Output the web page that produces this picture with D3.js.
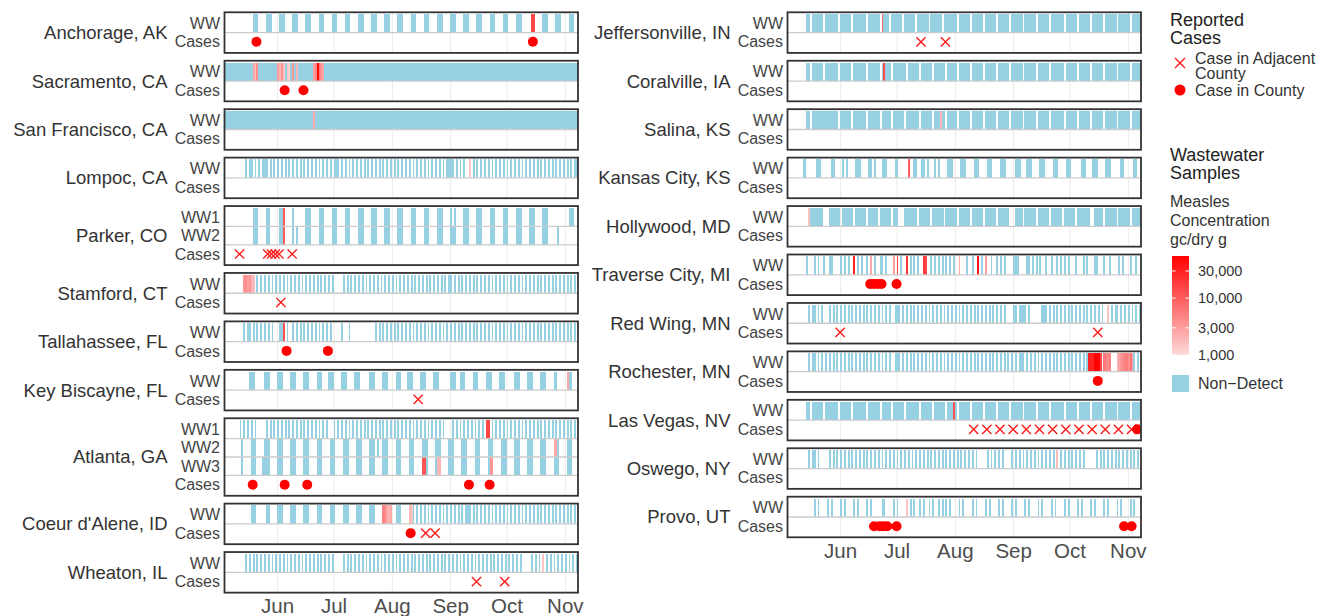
<!DOCTYPE html>
<html>
<head>
<meta charset="utf-8">
<script src="https://cdn.jsdelivr.net/npm/d3@7"></script>
<style>
  body { margin: 0; background: #fff; }
  text { font-family: "Liberation Sans", Arial, Helvetica, sans-serif; }
</style>
</head>
<body>
<script>
// ---- data ----
const firstDay = "2025-05-04";
const lastDay = "2025-11-08";

const siteNames = [
  "Anchorage, AK", "Sacramento, CA", "San Francisco, CA", "Lompoc, CA", "Parker, CO",
  "Stamford, CT", "Tallahassee, FL", "Key Biscayne, FL", "Atlanta, GA", "Coeur d'Alene, ID",
  "Wheaton, IL", "Jeffersonville, IN", "Coralville, IA", "Salina, KS", "Kansas City, KS",
  "Hollywood, MD", "Traverse City, MI", "Red Wing, MN", "Rochester, MN", "Las Vegas, NV",
  "Oswego, NY", "Provo, UT"
];
const siteColumn = [0, 0, 0, 0, 0, 0, 0, 0, 0, 0, 0, 1, 1, 1, 1, 1, 1, 1, 1, 1, 1, 1];

const wwRows = [
  ["WW"], ["WW"], ["WW"], ["WW"], ["WW1", "WW2"], ["WW"], ["WW"], ["WW"], ["WW1", "WW2", "WW3"],
  ["WW"], ["WW"], ["WW"], ["WW"], ["WW"], ["WW"], ["WW"], ["WW"], ["WW"], ["WW"], ["WW"], ["WW"], ["WW"]
];

// one char per day from firstDay, grouped by week: "#" = sample taken, "." = none
const wwSamples = [
  // Anchorage
  ["....... ....... .###... .###... .###... .###... .###... | .###... .###... .###... .###... .###... .###... .###... | .###... .###... .###... .###... .###... .###... .###... | .###... .###... ..##... .###... .###... .###.."],
  // Sacramento
  ["####### ####### ####### ####### ####### ####### ####### | ####### ####### ####### ####### ####### ####### ####### | ####### ####### ####### ####### ####### ####### ####### | ####### ####### ####### ####### ####### ######"],
  // San Francisco
  ["####### ####### ####### ####### ####### ####### ####### | ####### ####### ####### ####### ####### ####### ####### | ####### ####### ####### ####### ####### ####### ####### | ####### ####### ####### ####### ####### ######"],
  // Lompoc
  ["....... ....#.# #.#.#.# ##.#.#. #.#.#.# .#.#.#. #.#.#.# | .#.#.#. #.###.# .#.#.#. #.#.#.# .#.#.#. #.#.#.# .#.#.#. | #.#.#.# .#.#.#. #.#.#.# ###.#.# .#..#.# .#.#.#. #.#.#.# | .#.#.#. #.#.#.# .#.#.#. #.#.#.# .#.#.#. #.#.##"],
  // Parker
  ["....... ....... .###... .##.... .###... .#..... .###... | .###... .###... .###... .###... .###... .###... .###... | .###... .###... .###... .#.#... .###... .###... .###... | .###... .###... .###... .###... ....... .###..",
   "....... ....... .###... .##.... .###... .#.#... .###... | .###... .###... .###... .###... .###... .###... .###... | .###... .###... .###... .###... .###... .###... .###... | .###... .###... .###... .###... ..#.... ......"],
  // Stamford
  ["....... ...#### ##.#.#. #.#.#.# .#.#.#. #.#.#.# .#.#.#. | #.#.#.# .#..... #.#.#.# .#.#.#. #.#.#.# .#.#.#. #.#.#.# | .#.#.#. #.#.#.# .#.#.#. ##.#.#. #.#.#.# .#.#.#. #.#.#.# | .#.#.#. #.#.#.# .#.#.#. #.#.#.# .#.#.#. #.#.#."],
  // Tallahassee
  ["....... ...#.## .#.#.#. #.#.#.. .###.#. .#.#.#. #.#.#.# | .#.#.#. #.....# ...#... ....... ...#.#. #.#.#.# .#.#.#. | #.#.#.# .#.#.#. #.#.#.# .#.#.#. #.#.#.# .#.#.#. #.#.#.# | .#.#.#. #.#.#.# .#.#.#. #.#.#.# .#.#.#. #.#.#."],
  // Key Biscayne
  ["....... ......# ##..... ###.... ###.... ###.... ###.... | ###...# ##....# ##....# ##..... ###.... ###.... ###...# | ##....# ##....# ##..... .###..# ##....# ##....# ##....# | ##..... ###.... ###.... ###.... ##..... ###..."],
  // Atlanta
  ["....... .#.#.#. #.#.... .#.#.#. #.#.#.# .#.#.#. #.#.#.# | .#.#.#. ..#.#.# .#.#.#. #.#.#.# .#.#.#. #.#.#.# .#.#.#. | #.#.#.# .#.#.#. #.#.#.. ..#.#.# .#.#.#. #.#.#.# #.#.#.# | .#.#.#. #.#.#.# .#.#.#. #.#.#.# .#.#.#. #.#.#.",
   "....... ..#.... ###.... ###.... ###.... ###.... ###.... | ###.... ###.... ###.... ###.... ###.#.. ###.... ###.... | ###.... ###.... ###.... ###.... ###.... ###.... ###.... | ###.... ###.... ###.... ###.... ###.... ###...",
   "....... ..#.... ###...# ###.... ###.... ###.... ###.... | ###.... ###.... ###.... ###.... ###.... ###.... ###.... | ###.... ###.... ###.... ###.... ###.... ###.... ###.... | ###.... ###.... ###.... ###.... ###.... ###..."],
  // Coeur d'Alene
  ["....... ....... ###.... .##.... ###.... ###.... ###.... | ###.... ###.... ###.... ###.... ###.... #####.. ###.... | ###.#.# .#.#.#. #.#.#.# .#.#.#. #.###.# .#.#.#. #.#.#.# | .#.#.#. #.#.#.# .#.#.#. #.#.#.# .#.#.#. #.#.#."],
  // Wheaton
  ["....... ....#.# .#.#.#. #.#.#.# .#.#.#. #.#.#.# .#.#.#. | #.#.#.# .#..... #.#.#.# .#.#.#. #.#.#.# .#.#.#. #.#.#.# | .#.#.#. #.#.#.# .#.#.#. #.#.#.# .#.#.#. #.#.#.# .#.#.#. | #.#.#.# .#.#... ..#.#.# .#.#.#. #.#.#.# .#.#.#"],
  // Jeffersonville
  ["....... ...##.# #####.# ######. ######. ####### .###### | .####.# #####.# #####.# #####.# #####.# ######. ######. | ######. ######. ######. ######. ######. ######. ####### | .###### .###### .###### .###### .###### .#####"],
  // Coralville
  ["....... ...##.# #####.# ######. ######. ####### .###### | .#####. ####### .###### .###### .###### .#####. ######. | ######. ######. ######. ######. ######. ######. ####### | .###### .###### .###### .###### .###### .#####"],
  // Salina
  ["....... ...##.# ####### ######. ######. ####### .###### | .#####. ######. ####### .###### .###### .#####. ######. | ######. ######. ######. ######. ######. ######. ####### | .###### .###### .###### .###### .###### .#####"],
  // Kansas City
  ["....... .##.... .###... ..##... .#.#... .###... .##.#.. | .###... .##.... .#..##. .##.#.. .#.#... .###... .###... | .###... .###... .###... ..###.. .###... .###... .###... | .###... ..###.. .###... .###... ..##... ..##.."],
  // Hollywood
  ["....... ....### #####.. .###### .###### .###### .#####. | ######. ###...# ######. ######. ######. ######. ######. | ######. ######. ######. ..####. ######. ######. ######. | ######. ####### ..##### .###### .###### .#####"],
  // Traverse City
  ["....... ...#... #.#..#. .##.... #.#.#.. #.#.#.. #.#.#.. | ##.#... #.#.#.. #.#.#.# ..##..# .#.#.#. #.#.#.. #...#.. | #..#.#. #..#..# .#.#... .###... .##.#.# .#..#.. #..#.#. | #.#...# ...#.#. ..##... #..#... .#.#... #..#.."],
  // Red Wing
  ["....... ....#.# #.#.#.. .#.#.#. #.#.#.# .#.#.#. #.#.#.# | .#.#.#. .###.#. #.#.#.# .#.#.#. #.#.#.# .#.#.#. #.#.#.# | .#.#.#. #.#.#.# .#.#... .##.### #.#.... ..###.# .#.#.#. | #.#.#.# .#.#.#. #.#.#.# ..#.#.# #.#.#.# .#.#.#"],
  // Rochester
  ["....... ....#.# #.#.#.# .#.#.#. #.#.#.# .#.#.#. #.#.#.# | .#.#.#. .###.#. #.#.#.# .#.#.#. #.#.#.# .#.#.#. #.#.#.# | .#.#.#. #.#.#.# .#.#.#. #.#.### .#.#.#. #.#.#.# .#.#.#. | #.#.#.# .#.#.## ######. ####... ####### ###.#."],
  // Las Vegas
  ["....... ...##.# #####.# ######. ######. ####### .###### | .#####. ######. ####### .###### .###### .#####. ######. | ######. ######. ######. ######. ######. ######. ####### | .###### .###### .###### .###### .###### .#####"],
  // Oswego
  ["....... ....#.# #.#.... .#.#.#. #.#.#.# .#.#.#. #.#.#.# | .#.#.#. #.#.#.# .#.#.#. #.#.#.# .#.#.#. #.#.#.# .#.#.#. | #.#.... .#.#.#. #.#.... #.#.#.# .#.#.#. #.#.#.# .#.#.#. | #.#.#.# .#.#... ...#.#. #.#.#.# .#.#.#. #.#.#."],
  // Provo
  ["....... ....... #.#.... #.#.... #.#.... #.#.... #.#.... | .##.... #.#.... #.#.#.. #.#..#. #..#.#. #.#.... #.#.... | #.#.... #.#.... #.#.... #.#.... #.#.... #.#.... #.#.... | #.#.... #.#.... #.#.... #.#.... #.#.... #.#..."]
];

// measles detections: site, row, date, gc/dry g
const detections = [
  ["Anchorage, AK", "WW", "2025-10-14", 15000], ["Anchorage, AK", "WW", "2025-10-15", 15000],
  ["Sacramento, CA", "WW", "2025-05-19", 2500], ["Sacramento, CA", "WW", "2025-05-20", 1500],
  ["Sacramento, CA", "WW", "2025-05-21", 4000], ["Sacramento, CA", "WW", "2025-06-01", 3000],
  ["Sacramento, CA", "WW", "2025-06-02", 2000], ["Sacramento, CA", "WW", "2025-06-03", 4000],
  ["Sacramento, CA", "WW", "2025-06-04", 1500], ["Sacramento, CA", "WW", "2025-06-06", 1500],
  ["Sacramento, CA", "WW", "2025-06-07", 1200], ["Sacramento, CA", "WW", "2025-06-09", 3500],
  ["Sacramento, CA", "WW", "2025-06-11", 2000], ["Sacramento, CA", "WW", "2025-06-20", 3000],
  ["Sacramento, CA", "WW", "2025-06-21", 5000], ["Sacramento, CA", "WW", "2025-06-22", 45000],
  ["Sacramento, CA", "WW", "2025-06-23", 6000], ["Sacramento, CA", "WW", "2025-06-24", 4000],
  ["Sacramento, CA", "WW", "2025-06-25", 2500],
  ["San Francisco, CA", "WW", "2025-06-20", 2500],
  ["Lompoc, CA", "WW", "2025-09-11", 1500],
  ["Parker, CO", "WW1", "2025-06-04", 10000], ["Parker, CO", "WW2", "2025-06-04", 10000],
  ["Stamford, CT", "WW", "2025-05-14", 3500], ["Stamford, CT", "WW", "2025-05-15", 4000],
  ["Stamford, CT", "WW", "2025-05-16", 3000], ["Stamford, CT", "WW", "2025-05-17", 3500],
  ["Stamford, CT", "WW", "2025-05-18", 2000], ["Stamford, CT", "WW", "2025-05-19", 1800],
  ["Tallahassee, FL", "WW", "2025-06-04", 12000],
  ["Key Biscayne, FL", "WW", "2025-11-02", 2500],
  ["Atlanta, GA", "WW1", "2025-09-20", 15000], ["Atlanta, GA", "WW1", "2025-09-21", 15000],
  ["Atlanta, GA", "WW2", "2025-10-26", 2500], ["Atlanta, GA", "WW2", "2025-10-27", 2500],
  ["Atlanta, GA", "WW3", "2025-08-17", 12000], ["Atlanta, GA", "WW3", "2025-08-18", 12000],
  ["Atlanta, GA", "WW3", "2025-08-25", 2000], ["Atlanta, GA", "WW3", "2025-08-26", 2000],
  ["Atlanta, GA", "WW3", "2025-09-22", 3500], ["Atlanta, GA", "WW3", "2025-09-23", 3500],
  ["Coeur d'Alene, ID", "WW", "2025-07-27", 5000], ["Coeur d'Alene, ID", "WW", "2025-07-28", 4500],
  ["Coeur d'Alene, ID", "WW", "2025-07-29", 2500], ["Coeur d'Alene, ID", "WW", "2025-07-30", 2000],
  ["Coeur d'Alene, ID", "WW", "2025-07-31", 2500], ["Coeur d'Alene, ID", "WW", "2025-08-10", 1800],
  ["Coeur d'Alene, ID", "WW", "2025-08-11", 1500],
  ["Wheaton, IL", "WW", "2025-10-20", 1500],
  ["Jeffersonville, IN", "WW", "2025-06-23", 8000],
  ["Coralville, IA", "WW", "2025-06-24", 15000],
  ["Salina, KS", "WW", "2025-07-24", 2000],
  ["Kansas City, KS", "WW", "2025-07-07", 10000],
  ["Hollywood, MD", "WW", "2025-05-15", 1500],
  ["Traverse City, MI", "WW", "2025-06-08", 30000], ["Traverse City, MI", "WW", "2025-06-17", 2500],
  ["Traverse City, MI", "WW", "2025-06-29", 3000], ["Traverse City, MI", "WW", "2025-07-01", 15000],
  ["Traverse City, MI", "WW", "2025-07-06", 20000], ["Traverse City, MI", "WW", "2025-07-15", 20000],
  ["Traverse City, MI", "WW", "2025-07-16", 15000], ["Traverse City, MI", "WW", "2025-08-03", 2500],
  ["Traverse City, MI", "WW", "2025-08-13", 35000], ["Traverse City, MI", "WW", "2025-08-17", 3000],
  ["Red Wing, MN", "WW", "2025-10-21", 1500],
  ["Rochester, MN", "WW", "2025-10-11", 30000], ["Rochester, MN", "WW", "2025-10-12", 30000],
  ["Rochester, MN", "WW", "2025-10-13", 28000], ["Rochester, MN", "WW", "2025-10-14", 55000],
  ["Rochester, MN", "WW", "2025-10-15", 55000], ["Rochester, MN", "WW", "2025-10-16", 50000],
  ["Rochester, MN", "WW", "2025-10-17", 15000], ["Rochester, MN", "WW", "2025-10-19", 6000],
  ["Rochester, MN", "WW", "2025-10-20", 5000], ["Rochester, MN", "WW", "2025-10-21", 4000],
  ["Rochester, MN", "WW", "2025-10-22", 5000], ["Rochester, MN", "WW", "2025-10-26", 2000],
  ["Rochester, MN", "WW", "2025-10-27", 2500], ["Rochester, MN", "WW", "2025-10-28", 3500],
  ["Rochester, MN", "WW", "2025-10-29", 4500], ["Rochester, MN", "WW", "2025-10-30", 5000],
  ["Rochester, MN", "WW", "2025-10-31", 5500], ["Rochester, MN", "WW", "2025-11-01", 4000],
  ["Rochester, MN", "WW", "2025-11-02", 6000], ["Rochester, MN", "WW", "2025-11-03", 3000],
  ["Las Vegas, NV", "WW", "2025-07-31", 12000],
  ["Oswego, NY", "WW", "2025-09-24", 1800],
  ["Provo, UT", "WW", "2025-07-06", 1500]
];

const casesCounty = [
  ["Anchorage, AK", "2025-05-21"], ["Anchorage, AK", "2025-10-15"],
  ["Sacramento, CA", "2025-06-05"], ["Sacramento, CA", "2025-06-15"],
  ["Tallahassee, FL", "2025-06-06"], ["Tallahassee, FL", "2025-06-28"],
  ["Atlanta, GA", "2025-05-19"], ["Atlanta, GA", "2025-06-05"], ["Atlanta, GA", "2025-06-17"],
  ["Atlanta, GA", "2025-09-11"], ["Atlanta, GA", "2025-09-22"],
  ["Coeur d'Alene, ID", "2025-08-11"],
  ["Traverse City, MI", "2025-06-17"], ["Traverse City, MI", "2025-06-19"], ["Traverse City, MI", "2025-06-21"],
  ["Traverse City, MI", "2025-06-23"], ["Traverse City, MI", "2025-07-01"],
  ["Rochester, MN", "2025-10-16"],
  ["Las Vegas, NV", "2025-11-06"],
  ["Provo, UT", "2025-06-19"], ["Provo, UT", "2025-06-22"], ["Provo, UT", "2025-06-24"],
  ["Provo, UT", "2025-06-26"], ["Provo, UT", "2025-07-01"], ["Provo, UT", "2025-10-30"], ["Provo, UT", "2025-11-03"]
];

const casesAdjacent = [
  ["Parker, CO", "2025-05-12"], ["Parker, CO", "2025-05-27"], ["Parker, CO", "2025-05-29"],
  ["Parker, CO", "2025-05-31"], ["Parker, CO", "2025-06-02"], ["Parker, CO", "2025-06-09"],
  ["Stamford, CT", "2025-06-03"],
  ["Key Biscayne, FL", "2025-08-15"],
  ["Coeur d'Alene, ID", "2025-08-19"], ["Coeur d'Alene, ID", "2025-08-24"],
  ["Wheaton, IL", "2025-09-15"], ["Wheaton, IL", "2025-09-30"],
  ["Jeffersonville, IN", "2025-07-14"], ["Jeffersonville, IN", "2025-07-27"],
  ["Red Wing, MN", "2025-06-01"], ["Red Wing, MN", "2025-10-16"],
  ["Las Vegas, NV", "2025-08-11"], ["Las Vegas, NV", "2025-08-18"], ["Las Vegas, NV", "2025-08-25"],
  ["Las Vegas, NV", "2025-09-01"], ["Las Vegas, NV", "2025-09-08"], ["Las Vegas, NV", "2025-09-15"],
  ["Las Vegas, NV", "2025-09-22"], ["Las Vegas, NV", "2025-09-29"], ["Las Vegas, NV", "2025-10-06"],
  ["Las Vegas, NV", "2025-10-13"], ["Las Vegas, NV", "2025-10-20"], ["Las Vegas, NV", "2025-10-27"],
  ["Las Vegas, NV", "2025-11-03"]
];

const monthTicks = ["2025-06-01", "2025-07-01", "2025-08-01", "2025-09-01", "2025-10-01", "2025-11-01"];
const legendBreaks = [1000, 3000, 10000, 30000];
const concRange = [1000, 55000];

// ---- drawing ----
const parseDate = d3.utcParse("%Y-%m-%d");
const start = parseDate(firstDay), end = parseDate(lastDay);
const blue = "#95d1e2";
const red = d3.scaleLog().domain(concRange).range(["#fddada", "#ff0000"]).clamp(true);

const colX = [[224.5, 578], [787.5, 1141]];
const unit = 18.45, gap = 7.85, top0 = 12.3;

const svg = d3.select("body").append("svg")
  .attr("width", 1321).attr("height", 616);

function sampleRuns(str) {
  const s = str.replace(/[^.#]/g, "");
  const out = [];
  let i = 0;
  while (i < s.length) {
    if (s[i] === "#") {
      let j = i;
      while (j < s.length && s[j] === "#") j++;
      out.push([i, j]);
      i = j;
    } else i++;
  }
  return out;
}

function crossPath(cx, cy, r) {
  return "M" + (cx - r) + "," + (cy - r) + "L" + (cx + r) + "," + (cy + r) +
    "M" + (cx - r) + "," + (cy + r) + "L" + (cx + r) + "," + (cy - r);
}

const colTop = [top0, top0];
const colScale = [null, null];
const colBottom = [0, 0];

siteNames.forEach(function (site, s) {
  const c = siteColumn[s];
  const rows = wwRows[s].concat(["Cases"]);
  const h = (rows.length + 0.2) * unit;
  const top = colTop[c];
  colTop[c] += h + gap;
  colBottom[c] = top + h;

  const x = d3.scaleUtc().domain([start, end]).range(colX[c]);
  colScale[c] = x;
  const y = d3.scaleBand().domain(rows)
    .range([top + 0.1 * unit, top + h - 0.1 * unit]);

  const panel = svg.append("g").attr("class", "panel");
  panel.append("clipPath").attr("id", "clip" + s)
    .append("rect")
    .attr("x", colX[c][0]).attr("y", top)
    .attr("width", colX[c][1] - colX[c][0]).attr("height", h);

  const inner = panel.append("g").attr("clip-path", "url(#clip" + s + ")");
  inner.append("rect")
    .attr("x", colX[c][0]).attr("y", top)
    .attr("width", colX[c][1] - colX[c][0]).attr("height", h)
    .attr("fill", "#fff");

  // month gridlines
  inner.append("g")
    .attr("transform", "translate(0," + top + ")")
    .call(d3.axisBottom(x).tickValues(monthTicks.map(parseDate)).tickSize(h).tickFormat(""))
    .call(function (g) { g.select(".domain").remove(); })
    .selectAll("line").attr("stroke", "#ebebeb").attr("stroke-width", 1);

  // non-detect samples
  wwRows[s].forEach(function (rowName, k) {
    inner.append("g")
      .selectAll("rect")
      .data(sampleRuns(wwSamples[s][k]))
      .enter()
      .append("rect")
      .attr("x", function (d) { return x(d3.utcDay.offset(start, d[0])); })
      .attr("width", function (d) {
        return x(d3.utcDay.offset(start, d[1])) - x(d3.utcDay.offset(start, d[0]));
      })
      .attr("y", y(rowName))
      .attr("height", y.bandwidth())
      .attr("fill", blue)
      .attr("shape-rendering", "crispEdges");
  });

  // detections
  inner.append("g")
    .selectAll("rect")
    .data(detections.filter(function (d) { return d[0] === site; }))
    .enter()
    .append("rect")
    .attr("x", function (d) { return x(parseDate(d[2])); })
    .attr("width", function (d) {
      const t = parseDate(d[2]);
      return x(d3.utcDay.offset(t, 1)) - x(t);
    })
    .attr("y", function (d) { return y(d[1]); })
    .attr("height", y.bandwidth())
    .attr("fill", function (d) { return red(d[3]); })
    .attr("shape-rendering", "crispEdges");

  // row separators
  inner.append("g")
    .selectAll("line")
    .data(rows.slice(1))
    .enter()
    .append("line")
    .attr("x1", colX[c][0]).attr("x2", colX[c][1])
    .attr("y1", function (d) { return y(d); })
    .attr("y2", function (d) { return y(d); })
    .attr("stroke", "#cccccc")
    .attr("stroke-width", 1.3);

  const cy = y("Cases") + y.bandwidth() / 2;
  inner.append("g")
    .selectAll("path")
    .data(casesAdjacent.filter(function (d) { return d[0] === site; }))
    .enter()
    .append("path")
    .attr("d", function (d) { return crossPath(x(parseDate(d[1])), cy, 4.6); })
    .attr("stroke", "#ff1a1a")
    .attr("stroke-width", 1.4)
    .attr("fill", "none");

  inner.append("g")
    .selectAll("circle")
    .data(casesCounty.filter(function (d) { return d[0] === site; }))
    .enter()
    .append("circle")
    .attr("cx", function (d) { return x(parseDate(d[1])); })
    .attr("cy", cy)
    .attr("r", 5)
    .attr("fill", "#ff0000");

  // border
  panel.append("rect")
    .attr("x", colX[c][0]).attr("y", top)
    .attr("width", colX[c][1] - colX[c][0]).attr("height", h)
    .attr("fill", "none")
    .attr("stroke", "#333333")
    .attr("stroke-width", 1.8);

  // labels
  panel.append("text")
    .attr("x", colX[c][0] - 57)
    .attr("y", top + h / 2)
    .attr("dy", "0.35em")
    .attr("text-anchor", "end")
    .attr("font-size", "18.5px")
    .attr("fill", "#333")
    .text(site);

  panel.selectAll(".rowlab")
    .data(rows)
    .enter()
    .append("text")
    .attr("class", "rowlab")
    .attr("x", colX[c][0] - 4.5)
    .attr("y", function (d) { return y(d) + y.bandwidth() / 2; })
    .attr("dy", "0.35em")
    .attr("text-anchor", "end")
    .attr("font-size", "16px")
    .attr("fill", "#444")
    .text(function (d) { return d; });
});

// month axes under each column
[0, 1].forEach(function (c) {
  const axis = svg.append("g")
    .attr("transform", "translate(0," + colBottom[c] + ")")
    .call(d3.axisBottom(colScale[c])
      .tickValues(monthTicks.map(parseDate))
      .tickFormat(d3.utcFormat("%b"))
      .tickSize(0)
      .tickPadding(6));
  axis.select(".domain").remove();
  axis.selectAll("text")
    .attr("font-size", "20.5px")
    .attr("font-family", "'Liberation Sans', Arial, sans-serif")
    .attr("fill", "#4d4d4d");
});

// ---- legend ----
const lg = svg.append("g").attr("class", "legend");
const lx = 1170;

lg.append("text").attr("x", lx).attr("y", 25.5).attr("font-size", "18px").attr("fill", "#222").text("Reported");
lg.append("text").attr("x", lx).attr("y", 43.5).attr("font-size", "18px").attr("fill", "#222").text("Cases");

lg.append("path").attr("d", crossPath(1180, 63, 5))
  .attr("stroke", "#ff1a1a").attr("stroke-width", 1.4).attr("fill", "none");
lg.append("text").attr("x", 1195).attr("y", 63.5).attr("font-size", "16px").attr("fill", "#333").text("Case in Adjacent");
lg.append("text").attr("x", 1195).attr("y", 78.5).attr("font-size", "16px").attr("fill", "#333").text("County");

lg.append("circle").attr("cx", 1180).attr("cy", 90).attr("r", 5.5).attr("fill", "#ff0000");
lg.append("text").attr("x", 1195).attr("y", 95.5).attr("font-size", "16px").attr("fill", "#333").text("Case in County");

lg.append("text").attr("x", lx).attr("y", 160.5).attr("font-size", "18px").attr("fill", "#222").text("Wastewater");
lg.append("text").attr("x", lx).attr("y", 178.5).attr("font-size", "18px").attr("fill", "#222").text("Samples");

lg.append("text").attr("x", lx).attr("y", 206.5).attr("font-size", "16px").attr("fill", "#333").text("Measles");
lg.append("text").attr("x", lx).attr("y", 225.5).attr("font-size", "16px").attr("fill", "#333").text("Concentration");
lg.append("text").attr("x", lx).attr("y", 244.5).attr("font-size", "16px").attr("fill", "#333").text("gc/dry g");

const barY = d3.scaleLog().domain(concRange).range([355, 256]);
const grad = svg.append("defs").append("linearGradient")
  .attr("id", "concGrad").attr("x1", 0).attr("y1", 1).attr("x2", 0).attr("y2", 0);
d3.range(0, 1.0001, 0.1).forEach(function (t) {
  const v = Math.pow(10, Math.log10(concRange[0]) + t * (Math.log10(concRange[1]) - Math.log10(concRange[0])));
  grad.append("stop").attr("offset", t).attr("stop-color", red(v));
});
lg.append("rect")
  .attr("x", 1172).attr("y", barY(concRange[1]))
  .attr("width", 17).attr("height", barY(concRange[0]) - barY(concRange[1]))
  .attr("fill", "url(#concGrad)");

lg.selectAll(".cbtick")
  .data(legendBreaks)
  .enter()
  .append("g")
  .attr("class", "cbtick")
  .each(function (d) {
    const g = d3.select(this);
    const yy = barY(d);
    g.append("line").attr("x1", 1172).attr("x2", 1175.5).attr("y1", yy).attr("y2", yy)
      .attr("stroke", "#fff").attr("stroke-width", 1);
    g.append("line").attr("x1", 1185.5).attr("x2", 1189).attr("y1", yy).attr("y2", yy)
      .attr("stroke", "#fff").attr("stroke-width", 1);
    g.append("text").attr("x", 1198).attr("y", yy).attr("dy", "0.35em")
      .attr("font-size", "14.5px").attr("fill", "#333")
      .text(d3.format(",")(d));
  });

lg.append("rect").attr("x", 1172).attr("y", 375).attr("width", 17).attr("height", 17).attr("fill", blue);
lg.append("text").attr("x", 1198).attr("y", 389).attr("font-size", "16px").attr("fill", "#333").text("Non\u2212Detect");
</script>
</body>
</html>
